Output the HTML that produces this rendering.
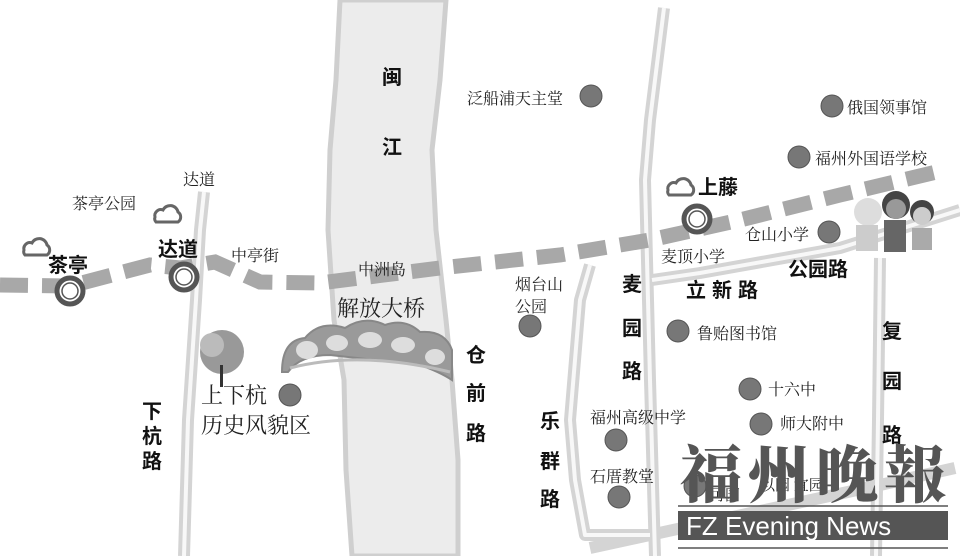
<!DOCTYPE html>
<html><head><meta charset="utf-8"><style>
html,body{margin:0;padding:0;background:#fff;}
svg{display:block;}
.s{font-family:"Liberation Serif","Noto Serif CJK SC",serif;fill:#222;}
.b{font-family:"Liberation Sans","Noto Sans CJK SC",sans-serif;font-weight:bold;fill:#111;}
</style></head><body>
<svg width="960" height="556" viewBox="0 0 960 556" xmlns="http://www.w3.org/2000/svg">
<rect width="960" height="556" fill="#fff"/>
<!-- river -->
<path d="M340,0 L446,0 L440,80 L432,150 L436,230 L446,320 L452,380 L458,460 L458,556 L352,556 L346,470 L344,380 L334,320 L328,230 L330,150 L336,80 Z" fill="#ececec" stroke="#cfcfcf" stroke-width="5"/>
<!-- roads -->
<g fill="none" stroke="#d4d4d4" stroke-width="12" stroke-linejoin="round">
<path d="M204,192 L200,230 L196,300 L188,420 L184,556"/>
<path d="M664,8 L650,120 L645,180 L650,380 L655,556"/>
<path d="M590,265 L580,300 L570,420 L575,480 L585,535 L650,535"/>
<path d="M652,280 L700,273 L840,248 L960,210"/>
<path d="M880,258 L878,420 L876,556"/>
<path d="M590,548 L880,485 L955,468"/>
</g>
<g fill="none" stroke="#f8f8f8" stroke-width="4" stroke-linejoin="round">
<path d="M204,192 L200,230 L196,300 L188,420 L184,556"/>
<path d="M664,8 L650,120 L645,180 L650,380 L655,556"/>
<path d="M590,265 L580,300 L570,420 L575,480 L585,535 L650,535"/>
<path d="M652,280 L700,273 L840,248 L960,210"/>
<path d="M880,258 L878,420 L876,556"/>
</g>
<!-- metro dashed -->
<path d="M0,285 L70,286 L150,265 L180,268 L215,262 L260,282 L320,283 L440,268 L560,255 L650,240 L740,220 L840,195 L945,170" fill="none" stroke="#a8a8a8" stroke-width="15" stroke-dasharray="28,14"/>
<!-- stations -->
<g fill="#fff" stroke="#555" stroke-width="5">
<circle cx="70" cy="291" r="13"/><circle cx="184" cy="277" r="13"/><circle cx="697" cy="219" r="13"/>
</g>
<g fill="none" stroke="#555" stroke-width="1.5">
<circle cx="70" cy="291" r="8"/><circle cx="184" cy="277" r="8"/><circle cx="697" cy="219" r="8"/>
</g>
<!-- metro icons -->
<g fill="none" stroke="#666" stroke-width="3">
<path d="M24,250 a6,6 0 0 1 8,-7 a8,8 0 0 1 15,2 a6,6 0 0 1 0,10 l-22,0 a5,5 0 0 1 -1,-5z"/>
<path d="M155,217 a6,6 0 0 1 8,-7 a8,8 0 0 1 15,2 a6,6 0 0 1 0,10 l-22,0 a5,5 0 0 1 -1,-5z"/>
<path d="M668,190 a6,6 0 0 1 8,-7 a8,8 0 0 1 15,2 a6,6 0 0 1 0,10 l-22,0 a5,5 0 0 1 -1,-5z"/>
</g>
<!-- bridge -->
<path d="M282,372 Q282,340 305,338 Q320,320 345,328 Q365,315 385,325 Q405,318 420,332 Q445,330 452,350 L452,380 Q440,372 420,365 L330,355 Q300,355 288,372 Z" fill="#9a9a9a" stroke="#888" stroke-width="2"/>
<g fill="#ddd"><ellipse cx="307" cy="350" rx="11" ry="9"/><ellipse cx="337" cy="343" rx="11" ry="8"/><ellipse cx="370" cy="340" rx="12" ry="8"/><ellipse cx="403" cy="345" rx="12" ry="8"/><ellipse cx="435" cy="357" rx="10" ry="8"/></g>
<path d="M290,368 Q360,350 450,372" fill="none" stroke="#bbb" stroke-width="3"/>
<!-- tree -->
<circle cx="222" cy="352" r="22" fill="#999"/><circle cx="212" cy="345" r="12" fill="#bbb"/><rect x="220" y="365" width="3" height="22" fill="#333"/>
<!-- kids -->
<g><circle cx="868" cy="212" r="14" fill="#ddd"/><rect x="856" y="225" width="22" height="26" fill="#ccc"/>
<circle cx="896" cy="205" r="14" fill="#444"/><circle cx="896" cy="209" r="10" fill="#999"/><rect x="884" y="220" width="22" height="32" fill="#666"/>
<circle cx="922" cy="212" r="12" fill="#444"/><circle cx="922" cy="216" r="9" fill="#ccc"/><rect x="912" y="228" width="20" height="22" fill="#aaa"/></g>
<!-- POI dots -->
<g fill="#777" stroke="#555" stroke-width="1">
<circle cx="591" cy="96" r="11"/><circle cx="832" cy="106" r="11"/><circle cx="799" cy="157" r="11"/><circle cx="829" cy="232" r="11"/>
<circle cx="530" cy="326" r="11"/><circle cx="678" cy="331" r="11"/><circle cx="750" cy="389" r="11"/><circle cx="761" cy="424" r="11"/>
<circle cx="616" cy="440" r="11"/><circle cx="619" cy="497" r="11"/><circle cx="290" cy="395" r="11"/><circle cx="695" cy="486" r="11"/>
</g>
<!-- labels serif -->
<g class="s" font-size="16">
<text x="467" y="104">泛船浦天主堂</text>
<text x="847" y="113">俄国领事馆</text>
<text x="815" y="164">福州外国语学校</text>
<text x="745" y="240">仓山小学</text>
<text x="661" y="262">麦顶小学</text>
<text x="183" y="185">达道</text>
<text x="72" y="209">茶亭公园</text>
<text x="231" y="261">中亭街</text>
<text x="358" y="275">中洲岛</text>
<text x="515" y="290">烟台山</text>
<text x="515" y="312">公园</text>
<text x="697" y="339">鲁贻图书馆</text>
<text x="768" y="395">十六中</text>
<text x="780" y="429">师大附中</text>
<text x="590" y="423">福州高级中学</text>
<text x="590" y="482">石厝教堂</text>
<text x="710" y="500" font-size="15">可园</text>
<text x="760" y="490" font-size="15">以园 宜园</text>
</g>
<text class="s" x="337" y="316" font-size="22">解放大桥</text>
<text class="s" x="201" y="403" font-size="22">上下杭</text>
<text class="s" x="201" y="433" font-size="22">历史风貌区</text>
<!-- bold labels -->
<g class="b" font-size="20">
<text x="48" y="272">茶亭</text>
<text x="158" y="256">达道</text>
<text x="698" y="194">上藤</text>
<text x="788" y="276">公园路</text>
<text x="686" y="297" letter-spacing="6">立新路</text>
<text x="382" y="84">闽</text><text x="382" y="154">江</text>
<text x="466" y="362">仓</text><text x="466" y="400">前</text><text x="466" y="440">路</text>
<text x="622" y="291">麦</text><text x="622" y="335">园</text><text x="622" y="378">路</text>
<text x="882" y="338">复</text><text x="882" y="388">园</text><text x="882" y="442">路</text>
<text x="142" y="418">下</text><text x="142" y="443">杭</text><text x="142" y="468">路</text>
<text x="540" y="428">乐</text><text x="540" y="468">群</text><text x="540" y="506">路</text>
</g>
<!-- logo -->
<text x="680" y="497" font-family="'Noto Serif CJK SC',serif" font-weight="900" font-size="62" fill="#555" letter-spacing="6">福州晚報</text>
<line x1="678" y1="506" x2="948" y2="506" stroke="#555" stroke-width="1.5"/>
<rect x="678" y="511" width="270" height="29" fill="#555"/>
<text x="686" y="535" font-family="'Liberation Sans',sans-serif" font-size="26" fill="#fff">FZ Evening News</text>
<line x1="678" y1="548" x2="948" y2="548" stroke="#555" stroke-width="1.5"/>
</svg>
</body></html>
